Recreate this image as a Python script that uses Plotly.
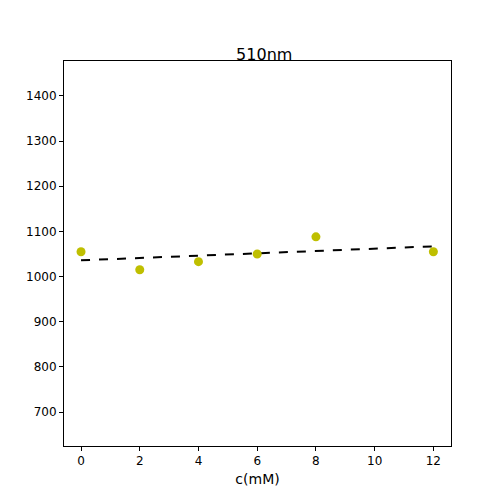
import plotly.graph_objects as go

conc = [0, 2, 4, 6, 8, 12]
intensity = [1055, 1015, 1033, 1050, 1088, 1055]
fit_x = [0, 12]
fit_y = [1036, 1067]

fig = go.Figure()
fig.add_trace(go.Scatter(x=fit_x, y=fit_y, mode="lines",
                         line=dict(color="black", width=2, dash="dash")))
fig.add_trace(go.Scatter(x=conc, y=intensity, mode="markers",
                         marker=dict(color="#bfbf00", size=9)))
axis = dict(showgrid=False, zeroline=False, showline=True, mirror=True,
            linecolor="black", linewidth=1, ticks="outside", ticklen=4,
            tickcolor="black")
fig.update_layout(
    width=500, height=500, plot_bgcolor="white", paper_bgcolor="white",
    showlegend=False,
    font=dict(family="DejaVu Sans", size=12, color="black"),
    margin=dict(l=56, r=57, t=53, b=62),
    title=dict(text="510nm", x=0.5125, xanchor="center", y=0.907, yanchor="middle",
               font=dict(size=16)),
    xaxis=dict(axis, range=[-0.58, 12.6], tickvals=[0, 2, 4, 6, 8, 10, 12],
               title=dict(text="c(mM)", standoff=6)),
    yaxis=dict(axis, range=[624.7, 1477.5],
               tickvals=[700, 800, 900, 1000, 1100, 1200, 1300, 1400]),
)
fig.write_html("out.html")
